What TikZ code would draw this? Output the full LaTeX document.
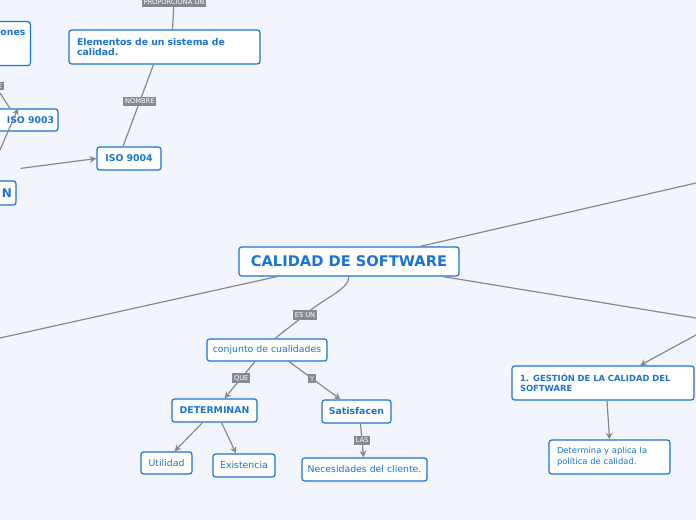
\documentclass[tikz,border=0pt]{standalone}
\usepackage{fontspec}
\setmainfont{DejaVu Sans}
\usetikzlibrary{arrows.meta}
\definecolor{bg}{HTML}{F2F5FE}
\definecolor{bl}{HTML}{1A73D9}
\definecolor{ln}{HTML}{888890}
\tikzset{
 box/.style={draw=bl,line width=0.9pt,fill=white,rounded corners=2pt,text=bl,font=\fontsize{7}{8}\selectfont,inner sep=0pt,align=center},
 bbox/.style={box,font=\fontsize{7}{8}\selectfont\bfseries},
 lab/.style={fill=ln,text=white,font=\fontsize{5}{6}\selectfont,inner sep=1.5pt},
 con/.style={draw=ln,line width=0.9pt},
 arr/.style={con,-{Stealth[length=5pt,width=5pt]}}
}
\begin{document}
\begin{tikzpicture}[x=0.75pt,y=-0.75pt]
\useasboundingbox (0,0) rectangle (696,520);
\fill[bg] (0,0) rectangle (696,520);
\clip (0,0) rectangle (696,520);
% nodes
\node[bbox,minimum width=220*0.75pt,minimum height=29*0.75pt,font=\fontsize{11}{13}\selectfont\bfseries] (cal) at (349,261.5) {CALIDAD DE SOFTWARE};
\node[box,minimum width=120*0.75pt,minimum height=22*0.75pt] (conj) at (267,350) {conjunto de cualidades};
\node[bbox,minimum width=85*0.75pt,minimum height=23*0.75pt] (det) at (214.5,410.5) {DETERMINAN};
\node[bbox,minimum width=69*0.75pt,minimum height=23*0.75pt] (sat) at (356.5,411.5) {Satisfacen};
\node[box,minimum width=51*0.75pt,minimum height=22*0.75pt] (uti) at (166.5,463) {Utilidad};
\node[box,minimum width=62*0.75pt,minimum height=23*0.75pt] (exi) at (244,465.5) {Existencia};
\node[box,minimum width=125*0.75pt,minimum height=23*0.75pt] (nec) at (364.5,469.5) {Necesidades del cliente.};
\node[bbox,minimum width=182*0.75pt,minimum height=34*0.75pt,align=left,text width=166*0.75pt,font=\fontsize{6.3}{7.5}\selectfont\bfseries] (ges) at (603,383) {1. GESTIÓN DE LA CALIDAD DEL\\SOFTWARE};
\node[box,minimum width=121*0.75pt,minimum height=34*0.75pt,align=left,text width=105*0.75pt,font=\fontsize{6.3}{8}\selectfont] (detr) at (609.5,457) {Determina y aplica la\\política de calidad.};
\node[bbox,minimum width=191*0.75pt,minimum height=34*0.75pt,align=left,text width=175*0.75pt] (ele) at (164.5,47) {Elementos de un sistema de\\calidad.};
\node[bbox,minimum width=64*0.75pt,minimum height=23*0.75pt] (i4) at (129,158.5) {ISO 9004};
\node[bbox,minimum width=90*0.75pt,minimum height=22*0.75pt,align=right,text width=82*0.75pt] (i3) at (13,120) {ISO 9003};
\node[bbox,minimum width=60*0.75pt,minimum height=24*0.75pt,align=right,text width=52*0.75pt,font=\fontsize{9}{10}\selectfont\bfseries] (nn) at (-14,193) {N};
\node[bbox,minimum width=80*0.75pt,minimum height=44*0.75pt,align=right,text width=70*0.75pt,anchor=north east] (ones) at (31,21) {ones\\ \mbox{}\\ \mbox{}};
% free ends
\coordinate (r1) at (696,183);
\coordinate (r2) at (696,318);
\coordinate (r3) at (696,335);
\coordinate (l1) at (0,338);
\coordinate (l2) at (0,150);
\coordinate (l3) at (0,93);
\coordinate (t1) at (174,2);
% connectors
\draw[con] (cal.north)++(71,0) -- (r1);
\draw[con] ([xshift=94*0.75pt]cal.south) -- (r2);
\draw[con] ([xshift=-72*0.75pt]cal.south) -- (l1);
\draw[con] (cal.south) .. controls (349,290) and (320,300) .. (305,315) coordinate (m1) -- ([xshift=8*0.75pt]conj.north);
\node[lab] at (305,315) {ES UN};
\draw[arr] ([xshift=-12*0.75pt]conj.south) -- node[lab,pos=0.45]{QUE} ([xshift=10*0.75pt]det.north);
\draw[arr] ([xshift=22*0.75pt]conj.south) -- node[lab,pos=0.45]{Y} ([xshift=-16*0.75pt]sat.north);
\draw[arr] ([xshift=-12*0.75pt]det.south) -- ([xshift=8*0.75pt]uti.north);
\draw[arr] ([xshift=7*0.75pt]det.south) -- ([xshift=-8*0.75pt]exi.north);
\draw[arr] ([xshift=4*0.75pt]sat.south) -- node[lab,pos=0.5]{LAS} ([xshift=-1*0.75pt]nec.north);
\draw[arr] (r3) -- ([xshift=37*0.75pt]ges.north);
\draw[arr] ([xshift=4*0.75pt]ges.south) -- (detr.north);
\draw[con] ([xshift=-6*0.75pt]i4.north) -- node[lab,pos=0.55]{NOMBRE} ([xshift=-11*0.75pt]ele.south);
\draw[con] ([xshift=8*0.75pt]ele.north) -- (t1);
\node[lab] at (t1) {PROPORCIONA UN};
\draw[arr] ([xshift=3pt]nn.north east) ++(0,-12) -- (i4.west);
\draw[arr] (l2) -- ([xshift=5*0.75pt]i3.north);
\draw[con] (l3) -- ([xshift=-3*0.75pt]i3.north);
\node[lab] at (0,86) {E};
\end{tikzpicture}
\end{document}
